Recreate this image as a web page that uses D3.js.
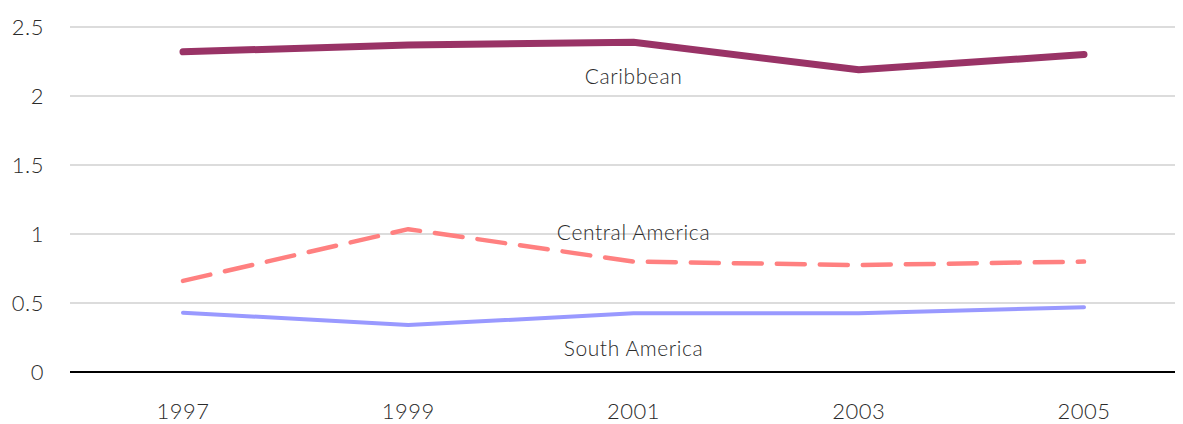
<!DOCTYPE html>
<html>
<head>
<meta charset="utf-8">
<script src="https://cdn.jsdelivr.net/npm/d3@7"></script>
<style>
  body { margin: 0; background: #fff; }
  text { font-family: Lato, "Open Sans", sans-serif; font-weight: 300; fill: #2b2b2b; }
</style>
</head>
<body>
<svg width="1183" height="424"></svg>
<script>
// data
var years = ["1997", "1999", "2001", "2003", "2005"];
var caribbean = [2.32, 2.37, 2.39, 2.19, 2.30];
var centralAmerica = [0.66, 1.035, 0.80, 0.775, 0.80];
var southAmerica = [0.43, 0.34, 0.425, 0.425, 0.47];
var yTicks = [0, 0.5, 1, 1.5, 2, 2.5];
var seriesNames = ["Caribbean", "Central America", "South America"];

var svg = d3.select("svg"),
    plotLeft = 70, plotRight = 1175,
    plotTop = 27, plotBottom = 372;

var x = d3.scalePoint().domain(years).range([183, 1084]);
var y = d3.scaleLinear().domain([0, 2.5]).range([plotBottom, plotTop]);

// gridlines
svg.append("g")
  .selectAll("line")
  .data(yTicks.filter(function(d) { return d > 0; }))
  .enter().append("line")
  .attr("x1", plotLeft).attr("x2", plotRight)
  .attr("y1", function(d) { return y(d); })
  .attr("y2", function(d) { return y(d); })
  .attr("stroke", "#d0d0d0")
  .attr("stroke-width", 1.5);

// y tick labels
svg.append("g")
  .selectAll("text")
  .data(yTicks)
  .enter().append("text")
  .attr("x", 44)
  .attr("y", function(d) { return y(d); })
  .attr("dy", "0.36em")
  .attr("text-anchor", "end")
  .style("font-size", "22px")
  .style("letter-spacing", "0.5px")
  .text(function(d) { return d; });

// x axis baseline
svg.append("line")
  .attr("x1", plotLeft).attr("x2", plotRight)
  .attr("y1", y(0)).attr("y2", y(0))
  .attr("stroke", "#000")
  .attr("stroke-width", 2);

// x tick labels
svg.append("g")
  .selectAll("text")
  .data(years)
  .enter().append("text")
  .attr("x", function(d) { return x(d); })
  .attr("y", 419)
  .attr("text-anchor", "middle")
  .style("font-size", "22px")
  .style("letter-spacing", "0.5px")
  .text(function(d) { return d; });

var line = d3.line()
  .x(function(d, i) { return x(years[i]); })
  .y(function(d) { return y(d); });

var series = [
  { name: seriesNames[0], values: caribbean, color: "#993366", width: 7, dash: null, labelY: 84 },
  { name: seriesNames[1], values: centralAmerica, color: "#ff8080", width: 4.5, dash: "28,15", labelY: 240 },
  { name: seriesNames[2], values: southAmerica, color: "#9999ff", width: 4, dash: null, labelY: 356 }
];

series.forEach(function(s) {
  svg.append("path")
    .datum(s.values)
    .attr("d", line)
    .attr("fill", "none")
    .attr("stroke", s.color)
    .attr("stroke-width", s.width)
    .attr("stroke-linecap", "round")
    .attr("stroke-linejoin", "round")
    .attr("stroke-dasharray", s.dash);
});

// series labels
svg.append("g")
  .selectAll("text")
  .data(series)
  .enter().append("text")
  .attr("x", x("2001"))
  .attr("y", function(d) { return d.labelY; })
  .attr("text-anchor", "middle")
  .style("font-size", "21px")
  .style("letter-spacing", "0.6px")
  .text(function(d) { return d.name; });
</script>
</body>
</html>
